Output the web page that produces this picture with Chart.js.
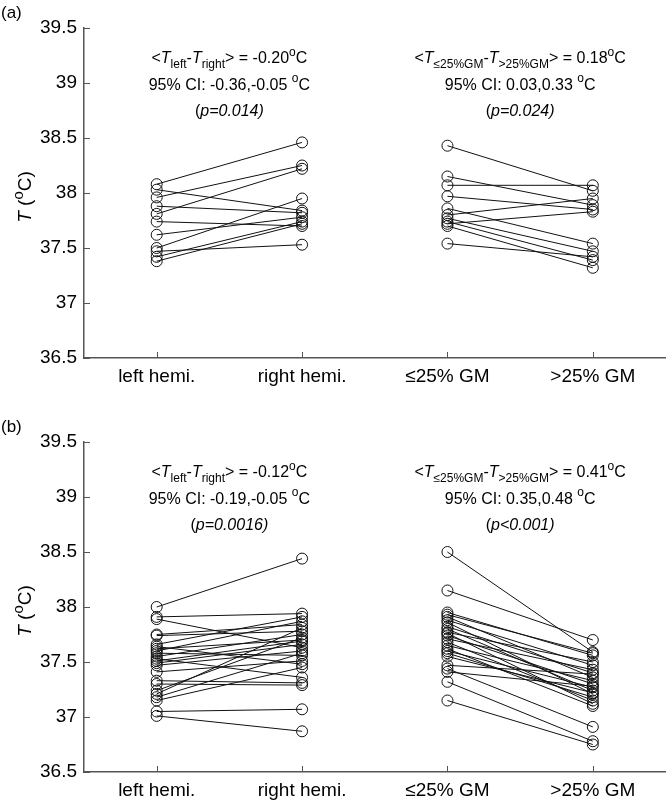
<!DOCTYPE html>
<html>
<head>
<meta charset="utf-8">
<script src="https://cdn.jsdelivr.net/npm/chart.js@4.4.0/dist/chart.umd.min.js"></script>
<style>
  html, body { margin: 0; padding: 0; background: #fff; }
  #wrap { position: relative; width: 672px; height: 806px; overflow: hidden; }
  .panel { position: absolute; left: 0; width: 672px; }
</style>
</head>
<body>
<div id="wrap">
  <div class="panel" style="top:0px;"><canvas id="chartA" width="672" height="410"></canvas></div>
  <div class="panel" style="top:414px;"><canvas id="chartB" width="672" height="392"></canvas></div>
</div>
<script>
var categories = ["left hemi.", "right hemi.", "\u226425% GM", ">25% GM"];
var yTicks = [36.5, 37, 37.5, 38, 38.5, 39, 39.5];

// panel (a): paired values, same index = same subject
var leftA  = [38.08, 38.03, 37.96, 37.88, 37.81, 37.74, 37.62, 37.50, 37.47, 37.42, 37.38];
var rightA = [38.46, 37.84, 38.25, 37.82, 38.22, 37.70, 37.78, 37.95, 37.53, 37.74, 37.72];
var lowGmA  = [38.43, 38.15, 38.07, 37.97, 37.86, 37.80, 37.77, 37.74, 37.72, 37.70, 37.54];
var highGmA = [38.02, 37.89, 38.07, 37.85, 37.54, 37.95, 37.47, 37.39, 37.83, 37.32, 37.42];

// panel (b)
var leftB  = [38.00, 37.91, 37.89, 37.75, 37.74, 37.66, 37.64, 37.62, 37.60, 37.58, 37.55, 37.53,
              37.51, 37.49, 37.47, 37.41, 37.33, 37.30, 37.24, 37.21, 37.18, 37.15, 37.05, 37.01];
var rightB = [38.44, 37.94, 37.63, 37.84, 37.78, 37.91, 37.48, 37.70, 37.87, 37.56, 37.75, 37.36,
              37.69, 37.66, 37.60, 37.51, 37.31, 37.29, 37.72, 37.81, 37.58, 37.45, 37.07, 36.87];
var lowGmB  = [38.50, 38.15, 37.95, 37.93, 37.91, 37.88, 37.86, 37.82, 37.80, 37.77, 37.76, 37.74,
               37.71, 37.68, 37.65, 37.62, 37.60, 37.58, 37.55, 37.47, 37.44, 37.41, 37.32, 37.15];
var highGmB = [37.59, 37.70, 37.56, 37.58, 37.36, 37.47, 37.21, 37.40, 37.24, 37.50, 37.12, 37.30,
               37.43, 37.15, 37.33, 37.10, 37.27, 37.18, 37.22, 37.39, 36.91, 37.28, 36.78, 36.75];

// annotation lines (s: n normal, i italic, sub, sup)
var notesLeftA = [
  [{t:"<"},{t:"T",s:"i"},{t:"left",s:"sub"},{t:"-"},{t:"T",s:"i"},{t:"right",s:"sub"},{t:"> = -0.20"},{t:"o",s:"sup"},{t:"C"}],
  [{t:"95% CI: -0.36,-0.05 "},{t:"o",s:"sup"},{t:"C"}],
  [{t:"("},{t:"p=0.014)",s:"i"}]
];
var notesRightA = [
  [{t:"<"},{t:"T",s:"i"},{t:"\u226425%GM",s:"sub"},{t:"-"},{t:"T",s:"i"},{t:">25%GM",s:"sub"},{t:"> = 0.18"},{t:"o",s:"sup"},{t:"C"}],
  [{t:"95% CI: 0.03,0.33 "},{t:"o",s:"sup"},{t:"C"}],
  [{t:"("},{t:"p=0.024)",s:"i"}]
];
var notesLeftB = [
  [{t:"<"},{t:"T",s:"i"},{t:"left",s:"sub"},{t:"-"},{t:"T",s:"i"},{t:"right",s:"sub"},{t:"> = -0.12"},{t:"o",s:"sup"},{t:"C"}],
  [{t:"95% CI: -0.19,-0.05 "},{t:"o",s:"sup"},{t:"C"}],
  [{t:"("},{t:"p=0.0016)",s:"i"}]
];
var notesRightB = [
  [{t:"<"},{t:"T",s:"i"},{t:"\u226425%GM",s:"sub"},{t:"-"},{t:"T",s:"i"},{t:">25%GM",s:"sub"},{t:"> = 0.41"},{t:"o",s:"sup"},{t:"C"}],
  [{t:"95% CI: 0.35,0.48 "},{t:"o",s:"sup"},{t:"C"}],
  [{t:"("},{t:"p<0.001)",s:"i"}]
];
var noteRows = [39.22, 38.98, 38.74];
var yTitle = [{t:"T",s:"i"},{t:" ("},{t:"o",s:"sup"},{t:"C)"}];

var FAM = '"Liberation Sans", Arial, Helvetica, sans-serif';
var AXIS = "#555";

function drawRich(ctx, parts, cx, cy, size) {
  function fontFor(p) {
    var small = p.s === "sub" || p.s === "sup";
    var sz = small ? Math.round(size * 0.78) : size;
    return (p.s === "i" ? "italic " : "") + sz + "px " + FAM;
  }
  var total = 0;
  var widths = parts.map(function(p) {
    ctx.font = fontFor(p);
    var w = ctx.measureText(p.t).width;
    total += w;
    return w;
  });
  var x = cx - total / 2;
  ctx.textAlign = "left";
  ctx.textBaseline = "middle";
  parts.forEach(function(p, i) {
    ctx.font = fontFor(p);
    var dy = p.s === "sub" ? size * 0.38 : (p.s === "sup" ? -size * 0.38 : 0);
    ctx.fillText(p.t, x, cy + dy);
    x += widths[i];
  });
}

var panelText = {
  id: "panelText",
  afterDraw: function(chart, args, opts) {
    var ctx = chart.ctx, area = chart.chartArea;
    var xs = chart.scales.x, ys = chart.scales.y;
    ctx.save();
    ctx.fillStyle = "#000";

    // inward tick marks
    ctx.strokeStyle = AXIS;
    ctx.lineWidth = 1;
    ctx.beginPath();
    yTicks.forEach(function(v) {
      var py = Math.round(ys.getPixelForValue(v)) + 0.5;
      ctx.moveTo(area.left, py);
      ctx.lineTo(area.left + 6, py);
    });
    categories.forEach(function(c, i) {
      var px = Math.round(xs.getPixelForValue(i + 1)) + 0.5;
      ctx.moveTo(px, area.bottom);
      ctx.lineTo(px, area.bottom - 6);
    });
    ctx.stroke();

    // panel letter
    ctx.font = "17px " + FAM;
    ctx.textAlign = "left";
    ctx.textBaseline = "middle";
    ctx.fillText(opts.letter, 1, 13);

    // notes
    noteRows.forEach(function(v, r) {
      var py = ys.getPixelForValue(v);
      drawRich(ctx, opts.left[r], xs.getPixelForValue(1.5), py, 16);
      drawRich(ctx, opts.right[r], xs.getPixelForValue(3.5), py, 16);
    });

    // y title
    ctx.translate(26, (area.top + area.bottom) / 2 + 4);
    ctx.rotate(-Math.PI / 2);
    drawRich(ctx, yTitle, 0, 0, 19);
    ctx.restore();
  }
};

function pairSets(a, b, xa, xb) {
  return a.map(function(v, i) {
    return {
      data: [{x: xa, y: v}, {x: xb, y: b[i]}],
      showLine: true,
      borderColor: "#111",
      borderWidth: 1,
      pointRadius: 5.5,
      pointHoverRadius: 5.5,
      pointBorderWidth: 1,
      pointBorderColor: "#111",
      pointBackgroundColor: "rgba(0,0,0,0)"
    };
  });
}

function makeChart(id, xHeight, letter, l, r, lg, hg, notesL, notesR) {
  var sets = pairSets(l, r, 1, 2).concat(pairSets(lg, hg, 3, 4));
  return new Chart(document.getElementById(id), {
    type: "scatter",
    data: { datasets: sets },
    options: {
      responsive: false,
      animation: false,
      events: [],
      layout: { padding: { top: 28, right: 4, left: 0, bottom: 0 } },
      plugins: {
        legend: { display: false },
        tooltip: { enabled: false },
        panelText: { letter: letter, left: notesL, right: notesR }
      },
      scales: {
        x: {
          type: "linear",
          min: 0.5,
          max: 4.5,
          afterBuildTicks: function(s) {
            s.ticks = categories.map(function(c, i) { return { value: i + 1 }; });
          },
          afterFit: function(s) { s.height = xHeight; },
          ticks: {
            padding: 7,
            color: "#000",
            font: { family: FAM, size: 19 },
            maxRotation: 0,
            callback: function(v) { return categories[v - 1]; }
          },
          grid: { display: true, drawOnChartArea: false, drawTicks: false },
          border: { display: true, color: AXIS, width: 1.5 }
        },
        y: {
          min: 36.5,
          max: 39.5,
          afterBuildTicks: function(s) {
            s.ticks = yTicks.map(function(v) { return { value: v }; });
          },
          afterFit: function(s) { s.width = 84; },
          ticks: {
            padding: 7,
            color: "#000",
            font: { family: FAM, size: 19 },
            callback: function(v) { return String(v); }
          },
          grid: { display: true, drawOnChartArea: false, drawTicks: false },
          border: { display: true, color: AXIS, width: 1.5 }
        }
      }
    },
    plugins: [panelText]
  });
}

makeChart("chartA", 52, "(a)", leftA, rightA, lowGmA, highGmA, notesLeftA, notesRightA);
makeChart("chartB", 34, "(b)", leftB, rightB, lowGmB, highGmB, notesLeftB, notesRightB);
</script>
</body>
</html>
